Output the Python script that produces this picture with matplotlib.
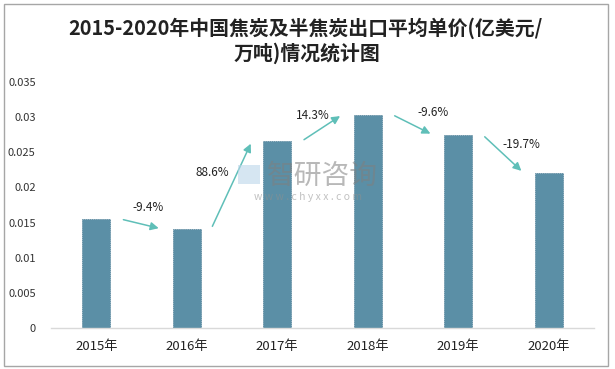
import matplotlib
matplotlib.use("Agg")
import matplotlib.pyplot as plt
from matplotlib.patches import Rectangle, FancyArrowPatch

plt.rcParams['font.family'] = ['Noto Sans CJK SC', 'DejaVu Sans']

years = ['2015年', '2016年', '2017年', '2018年', '2019年', '2020年']
values = [0.0155, 0.0141, 0.0266, 0.0304, 0.0275, 0.0221]
growth = ['-9.4%', '88.6%', '14.3%', '-9.6%', '-19.7%']
yticks = [0, 0.005, 0.01, 0.015, 0.02, 0.025, 0.03, 0.035]
ytick_labels = ['0', '0.005', '0.01', '0.015', '0.02', '0.025', '0.03', '0.035']
title_line1 = '2015-2020年中国焦炭及半焦炭出口平均单价(亿美元/'
title_line2 = '万吨)情况统计图'

# label offsets (points) relative to arrow midpoint -- layout only
label_offsets = [(5, 12), (-14, 9), (-7, 9), (15, 9), (13, 7)]

W, H = 615, 369
fig = plt.figure(figsize=(W / 100, H / 100), dpi=100)
fig.patch.set_facecolor('white')

ax = fig.add_axes([51 / W, 1 - 327.7 / H, 543 / W, (327.7 - 82.3) / H])
x = list(range(len(years)))
ax.bar(x, values, width=0.31, color='#5b8fa6', edgecolor='#4f7f96',
       linewidth=0.5, linestyle=(0, (2, 1)), zorder=2)
ax.set_xlim(-0.5, len(years) - 0.5)
ax.set_ylim(0, 0.035)
ax.set_yticks(yticks)
ax.set_yticklabels(ytick_labels, fontsize=8, color='#333333')
ax.set_xticks(x)
ax.set_xticklabels(years, fontsize=9.5, color='#222222')
ax.tick_params(axis='both', length=0)
ax.tick_params(axis='y', pad=11)
ax.tick_params(axis='x', pad=9)
for s in ['top', 'right', 'left']:
    ax.spines[s].set_visible(False)
ax.spines['bottom'].set_color('#d9d9d9')
ax.spines['bottom'].set_linewidth(1)

arrow_color = '#5fbfb8'
for i, g in enumerate(growth):
    x0, y0 = i + 0.27, values[i]
    x1, y1 = i + 0.72, values[i + 1]
    arr = FancyArrowPatch((x0, y0), (x1, y1), arrowstyle='-|>', mutation_scale=12,
                          color=arrow_color, lw=1.1, zorder=3)
    ax.add_patch(arr)
    dx, dy = label_offsets[i]
    ax.annotate(g, xy=((x0 + x1) / 2, (y0 + y1) / 2), xytext=(dx, dy),
                textcoords='offset points', ha='center', va='center',
                fontsize=8.5, color='#222222', zorder=4)

# watermark
fig.text(322 / W, 1 - 176 / H, '智研咨询', fontsize=20, color='#7f7f7f',
         alpha=0.55, ha='center', va='center', zorder=5)
fig.text(308 / W, 1 - 197 / H, 'w w w . c h y x x . c o m', fontsize=7.5,
         color='#8f8f8f', alpha=0.55, ha='center', va='center', zorder=5)
fig.patches.append(Rectangle((238 / W, 1 - 184 / H), 22 / W, 19 / H,
                             transform=fig.transFigure, facecolor='#bcd6ea',
                             edgecolor='none', alpha=0.6, zorder=5))

fig.text(305 / W, 1 - 28 / H, title_line1, fontsize=14.3, fontweight='bold',
         color='#222222', ha='center', va='center')
fig.text(307 / W, 1 - 53 / H, title_line2, fontsize=14.3, fontweight='bold',
         color='#222222', ha='center', va='center')

fig.patches.append(Rectangle((4 / W, 1 - 366 / H), 604 / W, 362 / H,
                             transform=fig.transFigure, fill=False,
                             edgecolor='#a6a6a6', linewidth=1))

fig.savefig('out.png', dpi=100)
